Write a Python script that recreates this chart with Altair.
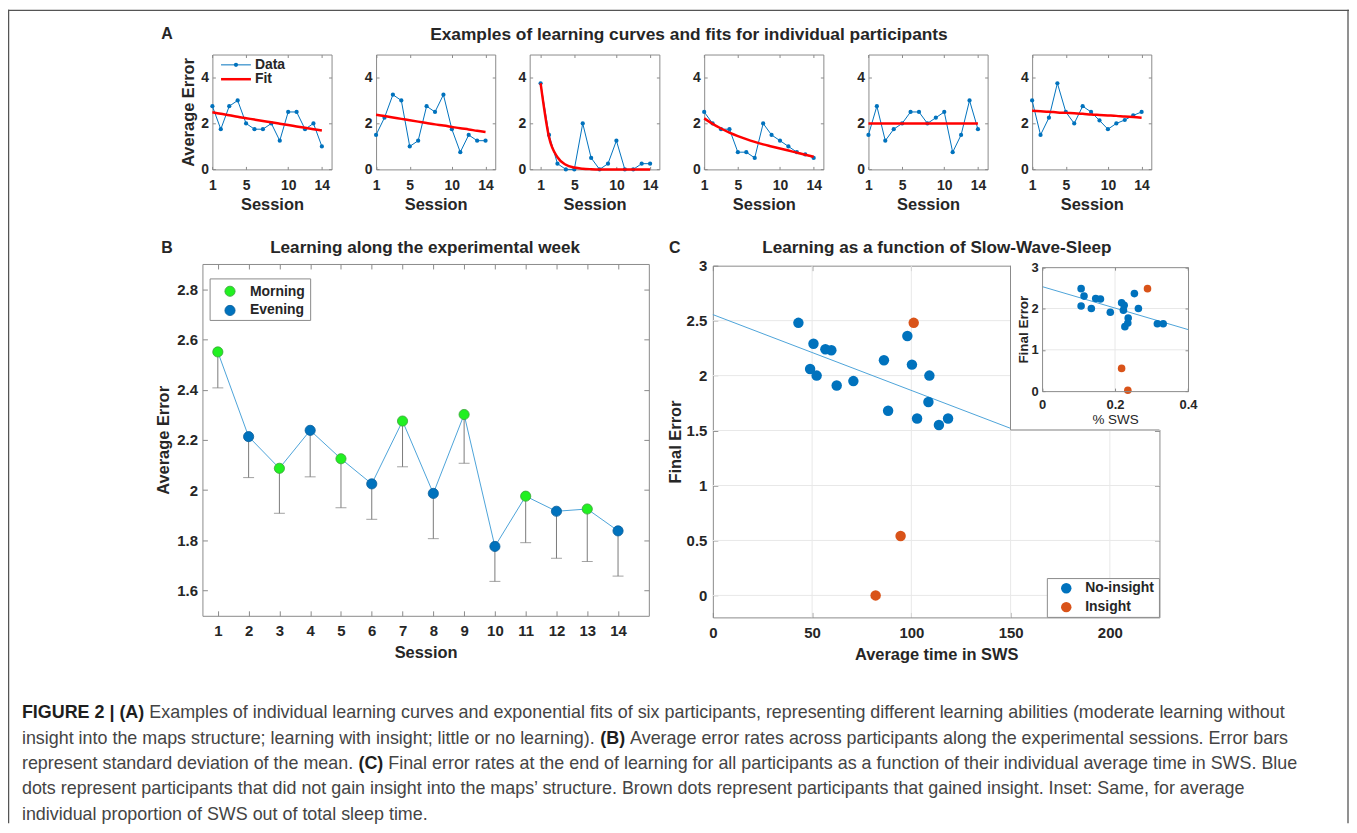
import altair as alt
import pandas as pd

# ---------------- data ----------------
sessions = list(range(1, 15))

a_err_1 = [2.75, 1.75, 2.75, 3.0, 2.0, 1.75, 1.75, 2.0, 1.25, 2.5, 2.5, 1.75, 2.0, 1.0]
a_fit_1 = [2.49, 2.42, 2.36, 2.29, 2.23, 2.17, 2.11, 2.05, 1.99, 1.93, 1.87, 1.81, 1.75, 1.69]
a_err_2 = [1.5, 2.25, 3.25, 3.0, 1.0, 1.25, 2.75, 2.5, 3.25, 1.75, 0.75, 1.5, 1.25, 1.25]
a_fit_2 = [2.38, 2.32, 2.26, 2.20, 2.14, 2.08, 2.02, 1.96, 1.91, 1.85, 1.79, 1.74, 1.68, 1.63]
a_err_3 = [3.75, 1.5, 0.25, 0.0, 0.0, 2.0, 0.5, 0.0, 0.25, 1.25, 0.0, 0.0, 0.25, 0.25]
a_fit_3 = [3.75, 1.40, 0.53, 0.20, 0.08, 0.03, 0.01, 0.0, 0.0, 0.0, 0.0, 0.0, 0.0, 0.0]
a_err_4 = [2.5, 2.0, 1.75, 1.75, 0.75, 0.75, 0.5, 2.0, 1.5, 1.25, 1.0, 0.75, 0.65, 0.5]
a_fit_4 = [2.22, 1.98, 1.78, 1.60, 1.45, 1.32, 1.20, 1.09, 1.00, 0.91, 0.82, 0.73, 0.64, 0.55]
a_err_5 = [1.5, 2.75, 1.25, 1.75, 2.0, 2.5, 2.5, 2.0, 2.25, 2.5, 0.75, 1.5, 3.0, 1.75]
a_fit_5 = [2.0, 2.0, 2.0, 2.0, 2.0, 2.0, 2.0, 2.0, 2.0, 2.0, 2.0, 2.0, 2.0, 2.0]
a_err_6 = [3.0, 1.5, 2.25, 3.75, 2.5, 2.0, 2.75, 2.5, 2.13, 1.75, 2.0, 2.15, 2.35, 2.5]
a_fit_6 = [2.55, 2.53, 2.51, 2.48, 2.46, 2.44, 2.42, 2.39, 2.37, 2.35, 2.33, 2.30, 2.28, 2.25]
a_errors = [a_err_1, a_err_2, a_err_3, a_err_4, a_err_5, a_err_6]
a_fits = [a_fit_1, a_fit_2, a_fit_3, a_fit_4, a_fit_5, a_fit_6]
a_xticks = [1, 5, 10, 14]
a_yticks = [0, 2, 4]

b_mean = [2.550, 2.213, 2.087, 2.238, 2.125, 2.025, 2.275, 1.987, 2.301, 1.776, 1.976, 1.916, 1.925, 1.838]
b_low = [2.407, 2.050, 1.908, 2.053, 1.930, 1.884, 2.093, 1.807, 2.107, 1.637, 1.791, 1.729, 1.716, 1.658]
b_time = ["Morning", "Evening"] * 7
b_xticks = sessions
b_yticks = [1.6, 1.8, 2.0, 2.2, 2.4, 2.6, 2.8]

c_sws = [43.1, 50.7, 49.0, 52.3, 56.7, 59.7, 62.4, 70.8, 86.2, 88.3, 98.0, 100.3, 109.1, 108.6, 102.9, 113.9, 118.5,
         101.2, 94.6, 82.0]
c_final = [2.48, 2.29, 2.06, 2.00, 2.24, 2.23, 1.91, 1.95, 2.14, 1.68, 2.36, 2.10, 2.00, 1.76, 1.61, 1.55, 1.61,
           2.48, 0.54, 0.00]
c_group = ["No-insight"] * 17 + ["Insight"] * 3
c_fit_x = [0, 150]
c_fit_y = [2.555, 1.52]
c_xticks = [0, 50, 100, 150, 200]
c_yticks = [0, 0.5, 1, 1.5, 2, 2.5, 3]

i_prop = [0.107, 0.115, 0.107, 0.135, 0.147, 0.160, 0.187, 0.218, 0.225, 0.223, 0.227, 0.235, 0.236, 0.253, 0.264,
          0.316, 0.332, 0.289, 0.218, 0.235]
i_final = [2.48, 2.30, 2.06, 2.00, 2.24, 2.23, 1.91, 2.14, 2.08, 1.96, 1.56, 1.65, 1.77, 2.36, 2.00, 1.63, 1.63,
           2.48, 0.55, 0.02]
i_group = ["No-insight"] * 17 + ["Insight"] * 3
i_fit_x = [0, 0.4]
i_fit_y = [2.53, 1.49]
i_xticks = [0, 0.2, 0.4]
i_yticks = [0, 1, 2, 3]

caption_lines = [
    [("FIGURE 2 | (A)", True),
     ("Examples of individual learning curves and exponential fits of six participants, representing different learning abilities (moderate learning without", False)],
    [("insight into the maps structure; learning with insight; little or no learning).", False), ("(B)", True),
     ("Average error rates across participants along the experimental sessions. Error bars", False)],
    [("represent standard deviation of the mean.", False), ("(C)", True),
     ("Final error rates at the end of learning for all participants as a function of their individual average time in SWS. Blue", False)],
    [("dots represent participants that did not gain insight into the maps\u2019 structure. Brown dots represent participants that gained insight. Inset: Same, for average", False)],
    [("individual proportion of SWS out of total sleep time.", False)],
]

# ---------------- layout / style ----------------
W, H = 1347, 817


def gx(p):
    return round(p - 8, 2)


gy = gx

FONT = "Liberation Sans"
INK = "#262626"
BOX = "#8a8a8a"
BLUE = "#0072BD"
ORANGE = "#D95319"
GREEN = "#21F021"
LBLUE = "#4DA3D9"
GRID = "#e8e8e8"


def mk_axis(values, **kw):
    base = dict(values=values, grid=False, labels=False, ticks=False, domain=False, tickSize=0,
                domainColor=BOX, domainWidth=1, tickColor=BOX, tickWidth=1,
                labelFont=FONT, labelFontWeight="bold", labelColor=INK, labelFlush=False,
                labelOverlap=False, format="~f", titleFont=FONT, titleFontWeight="bold",
                titleColor=INK, zindex=0)
    base.update(kw)
    return alt.Axis(**base)


def guide_layers(sx, sy, dom0, xvals, yvals, box, xtitle, ytitle, st):
    xl, xr, yb, yt = gx(box[0]), gx(box[1]), gy(box[2]), gy(box[3])
    t = st["tick"]
    z = st.get("z", 0)
    df = pd.DataFrame({"u": [dom0[0]], "v": [dom0[1]]})
    specs = [
        (mk_axis(xvals, orient="bottom", offset=yb - H, labels=True, domain=True,
                 labelFontSize=st["ls"], titleFontSize=st["ts"], zindex=z,
                 titleFontWeight=st.get("xtw", "bold"),
                 labelPadding=st["xlp"], titlePadding=st["xtp"]), xtitle,
         mk_axis(yvals, orient="left", offset=-xl, labels=True, domain=True,
                 labelFontSize=st["ls"], titleFontSize=st["ts"], zindex=z,
                 labelPadding=st["ylp"], titlePadding=st["ytp"]), ytitle),
        (mk_axis(xvals, orient="top", offset=-yb, ticks=True, tickSize=t, zindex=z), "",
         mk_axis(yvals, orient="right", offset=xl - W, ticks=True, tickSize=t, zindex=z), ""),
        (mk_axis(xvals, orient="bottom", offset=yt - H, ticks=True, tickSize=t, domain=True, zindex=z), "",
         mk_axis(yvals, orient="left", offset=-xr, ticks=True, tickSize=t, domain=True, zindex=z), ""),
    ]
    out = []
    for ax_x, tx, ax_y, ty in specs:
        out.append(alt.Chart(df).mark_point(opacity=0, size=1).encode(
            x=alt.X("u:Q", scale=sx, axis=ax_x, title=tx),
            y=alt.Y("v:Q", scale=sy, axis=ax_y, title=ty)))
    return out


# ---------------- panel A ----------------
a_left = [213.3, 377.7, 532.0, 707.3, 872.3, 1036.7]
a_xdom = [[1, 15.15], [1, 15.15], [-0.3, 15.1], [1, 15.15], [1, 15.15], [1, 15.15]]
a_top, a_bot = 52.9, 168.3
A_UNIT = 8.46

panels = []
for k in range(6):
    left = a_left[k]
    dom = a_xdom[k]
    right = left + (dom[1] - dom[0]) * A_UNIT
    sx = alt.Scale(domain=dom, range=[gx(left), gx(right)], zero=False, nice=False)
    sy = alt.Scale(domain=[0, 5], range=[gy(a_bot), gy(a_top)], zero=False, nice=False)
    df = pd.DataFrame({"session": sessions, "err": a_errors[k], "fit": a_fits[k]})
    base = alt.Chart(df)
    X = alt.X("session:Q", scale=sx, axis=None)
    line = base.mark_line(color=BLUE, strokeWidth=1).encode(x=X, y=alt.Y("err:Q", scale=sy, axis=None))
    pts = base.mark_circle(color=BLUE, size=18, opacity=1).encode(x=X, y=alt.Y("err:Q", scale=sy, axis=None))
    fit = base.mark_line(color="#FF0000", strokeWidth=2.5, interpolate="monotone").encode(
        x=X, y=alt.Y("fit:Q", scale=sy, axis=None))
    st = dict(tick=3, ls=14, ts=16.5, xlp=9, xtp=4, ylp=4, ytp=4)
    g = guide_layers(sx, sy, (dom[0], 0), a_xticks, a_yticks, (left, right, a_bot, a_top),
                     "Session", "Average Error" if k == 0 else "", st)
    panels.append(alt.layer(line, pts, fit, *g).resolve_axis(x="independent", y="independent"))

# ---------------- panel B ----------------
b_box = (203.3, 651.7, 616.7, 263.3)
sxb = alt.Scale(domain=[0.5, 15], range=[gx(b_box[0]), gx(b_box[1])], zero=False, nice=False)
syb = alt.Scale(domain=[1.5, 2.9], range=[gy(b_box[2]), gy(b_box[3])], zero=False, nice=False)
dfb = pd.DataFrame({"session": sessions, "mean": b_mean, "low": b_low, "time": b_time})
bb = alt.Chart(dfb)
XB = alt.X("session:Q", scale=sxb, axis=None)
b_line = bb.mark_line(color=LBLUE, strokeWidth=1).encode(x=XB, y=alt.Y("mean:Q", scale=syb, axis=None))
b_err = bb.mark_rule(color="#7a7a7a", strokeWidth=1).encode(
    x=XB, y=alt.Y("mean:Q", scale=syb, axis=None), y2="low:Q")
b_cap = bb.mark_tick(color="#7a7a7a", orient="horizontal", size=11, thickness=1).encode(
    x=XB, y=alt.Y("low:Q", scale=syb, axis=None))
b_dot = bb.mark_circle(size=105, opacity=1, strokeWidth=0.8).encode(
    x=XB, y=alt.Y("mean:Q", scale=syb, axis=None),
    color=alt.Color("time:N", scale=alt.Scale(domain=["Morning", "Evening"], range=[GREEN, BLUE]), legend=None),
    stroke=alt.Stroke("time:N", scale=alt.Scale(domain=["Morning", "Evening"], range=["#3aa33a", "#0a5f9a"]),
                      legend=None))
st = dict(tick=5, ls=15, ts=16.5, xlp=8, xtp=6, ylp=5, ytp=5)
gb = guide_layers(sxb, syb, (0.5, 1.5), b_xticks, b_yticks, b_box, "Session", "Average Error", st)
panels.append(alt.layer(b_line, b_err, b_cap, b_dot, *gb).resolve_axis(x="independent", y="independent")
              .resolve_scale(color="independent", stroke="independent"))

# ---------------- panel C ----------------
c_box = (716.0, 1164.6, 618.3, 265.0)
sxc = alt.Scale(domain=[0, 225], range=[gx(c_box[0]), gx(c_box[1])], zero=False, nice=False)
syc = alt.Scale(domain=[-0.2, 3], range=[gy(c_box[2]), gy(c_box[3])], zero=False, nice=False)
dfc = pd.DataFrame({"sws": c_sws, "final": c_final, "group": c_group})
dfc_fit = pd.DataFrame({"fx": c_fit_x, "fy": c_fit_y})
dfc_vg = pd.DataFrame({"gxv": c_xticks[1:], "y0": [-0.2] * 4, "y1": [3] * 4})
dfc_hg = pd.DataFrame({"gyv": c_yticks[:-1], "x0": [0] * 6, "x1": [225] * 6})
c_vgrid = alt.Chart(dfc_vg).mark_rule(color=GRID, strokeWidth=1).encode(
    x=alt.X("gxv:Q", scale=sxc, axis=None), y=alt.Y("y0:Q", scale=syc, axis=None), y2="y1:Q")
c_hgrid = alt.Chart(dfc_hg).mark_rule(color=GRID, strokeWidth=1).encode(
    y=alt.Y("gyv:Q", scale=syc, axis=None), x=alt.X("x0:Q", scale=sxc, axis=None), x2="x1:Q")
c_fit = alt.Chart(dfc_fit).mark_line(color=LBLUE, strokeWidth=1).encode(
    x=alt.X("fx:Q", scale=sxc, axis=None), y=alt.Y("fy:Q", scale=syc, axis=None))
c_dot = alt.Chart(dfc).mark_circle(size=110, opacity=1).encode(
    x=alt.X("sws:Q", scale=sxc, axis=None), y=alt.Y("final:Q", scale=syc, axis=None),
    color=alt.Color("group:N", scale=alt.Scale(domain=["No-insight", "Insight"], range=[BLUE, ORANGE]), legend=None))
st = dict(tick=5, ls=15, ts=16.5, xlp=8, xtp=6, ylp=6, ytp=3)
gc = guide_layers(sxc, syc, (0, -0.2), c_xticks, c_yticks, c_box, "Average time in SWS", "Final Error", st)
panels.append(alt.layer(c_vgrid, c_hgrid, c_fit, c_dot, *gc).resolve_axis(x="independent", y="independent"))

# white area behind the inset
one = pd.DataFrame({"k": [0]})
inset_bg = alt.layer(
    alt.Chart(one).mark_rect(fill="white", strokeWidth=0).encode(
        x=alt.value(gx(1015)), x2=alt.value(gx(1205)), y=alt.value(gy(263)), y2=alt.value(gy(430))),
    alt.Chart(one).mark_rule(color=BOX, strokeWidth=1).encode(
        x=alt.value(gx(1015)), y=alt.value(gy(265)), y2=alt.value(gy(430))),
    alt.Chart(one).mark_rule(color=BOX, strokeWidth=1).encode(
        x=alt.value(gx(1015)), x2=alt.value(gx(1164.6)), y=alt.value(gy(430))),
)

# ---------------- inset ----------------
i_box = (1046.7, 1193.3, 391.0, 266.5)
sxi = alt.Scale(domain=[0, 0.4], range=[gx(i_box[0]), gx(i_box[1])], zero=False, nice=False)
syi = alt.Scale(domain=[0, 3], range=[gy(i_box[2]), gy(i_box[3])], zero=False, nice=False)
dfi = pd.DataFrame({"prop": i_prop, "final": i_final, "group": i_group})
dfi_fit = pd.DataFrame({"fx": i_fit_x, "fy": i_fit_y})
dfi_vg = pd.DataFrame({"gxv": [0.2], "y0": [0], "y1": [3]})
dfi_hg = pd.DataFrame({"gyv": [1, 2], "x0": [0, 0], "x1": [0.4, 0.4]})
i_vgrid = alt.Chart(dfi_vg).mark_rule(color=GRID, strokeWidth=1).encode(
    x=alt.X("gxv:Q", scale=sxi, axis=None), y=alt.Y("y0:Q", scale=syi, axis=None), y2="y1:Q")
i_hgrid = alt.Chart(dfi_hg).mark_rule(color=GRID, strokeWidth=1).encode(
    y=alt.Y("gyv:Q", scale=syi, axis=None), x=alt.X("x0:Q", scale=sxi, axis=None), x2="x1:Q")
i_fit = alt.Chart(dfi_fit).mark_line(color=LBLUE, strokeWidth=1).encode(
    x=alt.X("fx:Q", scale=sxi, axis=None), y=alt.Y("fy:Q", scale=syi, axis=None))
i_dot = alt.Chart(dfi).mark_circle(size=58, opacity=1).encode(
    x=alt.X("prop:Q", scale=sxi, axis=None), y=alt.Y("final:Q", scale=syi, axis=None),
    color=alt.Color("group:N", scale=alt.Scale(domain=["No-insight", "Insight"], range=[BLUE, ORANGE]), legend=None))
st = dict(tick=3, ls=13, ts=13.5, xlp=7, xtp=2, ylp=4, ytp=0, z=1, xtw="normal")
gi = guide_layers(sxi, syi, (0, 0), i_xticks, i_yticks, i_box, "% SWS", "Final Error", st)
inset = alt.layer(i_vgrid, i_hgrid, i_fit, i_dot, *gi).resolve_axis(x="independent", y="independent")


# ---------------- decorations (text, legends, frame) ----------------
def txt(s, x, y, size=16, weight="bold", align="left", color=INK, font=FONT):
    return alt.Chart(one).mark_text(font=font, fontSize=size, fontWeight=weight, align=align,
                                    baseline="middle", color=color).encode(
        x=alt.value(gx(x)), y=alt.value(gy(y)), text=alt.value(s))


def hrule(x1, x2, y, color, w):
    return alt.Chart(one).mark_rule(color=color, strokeWidth=w).encode(
        x=alt.value(gx(x1)), x2=alt.value(gx(x2)), y=alt.value(gy(y)))


def dot(x, y, color, size, stroke=None):
    kw = dict(color=color, size=size, opacity=1)
    if stroke:
        kw.update(stroke=stroke, strokeWidth=0.8)
    return alt.Chart(one).mark_circle(**kw).encode(x=alt.value(gx(x)), y=alt.value(gy(y)))


def box(x1, x2, y1, y2, fill="white"):
    return alt.Chart(one).mark_rect(fill=fill, stroke=BOX, strokeWidth=1).encode(
        x=alt.value(gx(x1)), x2=alt.value(gx(x2)), y=alt.value(gy(y1)), y2=alt.value(gy(y2)))


decor = [
    txt("A", 162, 32), txt("B", 162, 247), txt("C", 672, 247),
    txt("Examples of learning curves and fits for individual participants", 692, 33, size=17.4, align="center"),
    txt("Learning along the experimental week", 427, 247, size=17.2, align="center"),
    txt("Learning as a function of Slow-Wave-Sleep", 941, 247, size=17.2, align="center"),
    # panel A legend
    hrule(222, 252, 63.3, BLUE, 1), dot(237, 63.3, BLUE, 18), txt("Data", 256, 63.3, size=14),
    hrule(222, 252, 77.7, "#FF0000", 2.5), txt("Fit", 256, 77.7, size=14),
    # panel B legend
    box(211, 312, 278.3, 320),
    dot(231, 290.7, GREEN, 105, "#3aa33a"), txt("Morning", 251, 291, size=14),
    dot(231, 310, BLUE, 105, "#0a5f9a"), txt("Evening", 251, 310, size=14),
    # panel C legend
    box(1052, 1164.6, 579.3, 618.3),
    dot(1071, 589, BLUE, 110), txt("No-insight", 1090, 589, size=14),
    dot(1071, 608, ORANGE, 110), txt("Insight", 1090, 608, size=14),
]

# outer frame
frame = [
    alt.Chart(one).mark_rule(color="#555555", strokeWidth=1.3).encode(
        x=alt.value(0.6), y=alt.value(0), y2=alt.value(H)),
    alt.Chart(one).mark_rule(color="#555555", strokeWidth=1.3).encode(
        x=alt.value(0), x2=alt.value(W), y=alt.value(0.6)),
    alt.Chart(one).mark_rule(color="#555555", strokeWidth=1.3).encode(
        x=alt.value(W - 1), y=alt.value(0), y2=alt.value(H)),
]

# caption: segment positions from Arial (Liberation Sans) advance widths
REG_W = {}
for chars, w in [(" !,./:;I[]ft", 278), ("ijl\u2019'", 222), ("()-r", 333), ("cksvxyzJ", 500),
                 ("0123456789abdeghnopquL?", 556), ("FTZ", 611), ("ABEKPSVXY", 667), ("CDHNRUw", 722),
                 ("GOQ", 778), ("Mm", 833), ("%", 889), ("W", 944), ("|", 260)]:
    for ch in chars:
        REG_W[ch] = w
BOLD_W = {}
for chars, w in [(" I", 278), ("()", 333), ("|", 280), ("2", 556), ("F", 611), ("E", 667),
                 ("ABCRU", 722), ("G", 778)]:
    for ch in chars:
        BOLD_W[ch] = w


def units(s, bold):
    tbl = BOLD_W if bold else REG_W
    return sum(tbl.get(ch, 556) for ch in s)


CAP_X0, CAP_X1 = 22, 1292
first = caption_lines[0]
line1_units = sum(units(s, b) for s, b in first) + units(" ", False) * (len(first) - 1)
CAP_SIZE = round((CAP_X1 - CAP_X0) * 1000 / line1_units, 2)
cap_y = [714, 740, 766, 791, 817]
caption = []
for line, yy in zip(caption_lines, cap_y):
    xx = CAP_X0
    for s, b in line:
        caption.append(txt(s, xx, yy, size=CAP_SIZE, weight="bold" if b else "normal",
                           color="#1e1e1e" if b else "#444444"))
        xx += (units(s, b) + units(" ", False)) * CAP_SIZE / 1000

chart = alt.layer(*panels, inset_bg, inset, *decor, *frame, *caption).resolve_scale(
    x="independent", y="independent", color="independent", stroke="independent"
).resolve_axis(x="independent", y="independent").properties(
    width=W, height=H, autosize="none", padding=0
).configure_view(stroke=None)

chart.save("out.html", embed_options={"renderer": "svg", "actions": False})
